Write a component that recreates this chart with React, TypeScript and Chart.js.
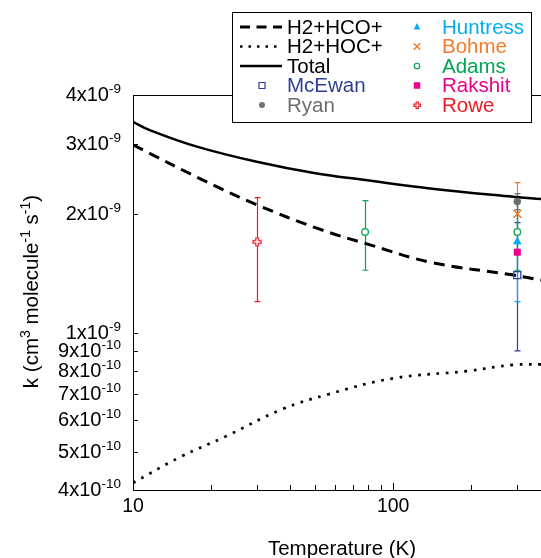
import React, { useEffect, useRef } from "react";
import { Chart, registerables } from "chart.js";
Chart.register(...registerables);

const FONT = '"Liberation Sans", Arial, Helvetica, sans-serif';

// Model curves: temperature (K) and rate coefficient (cm^3 molecule^-1 s^-1)
const hcoTemps = [10, 19.2, 29.9, 50.9, 81.5, 138.6, 290, 370];
const hcoRates = [2.99e-9, 2.41e-9, 2.11e-9, 1.84e-9, 1.67e-9, 1.51e-9, 1.40e-9, 1.36e-9];
const hocTemps = [10, 15.2, 22.9, 37.3, 56.4, 100, 192, 290, 370];
const hocRates = [4.17e-10, 4.85e-10, 5.48e-10, 6.4e-10, 6.99e-10, 7.67e-10, 8.0e-10, 8.3e-10, 8.32e-10];
const totalTemps = [10, 11.6, 17.6, 29.9, 50.9, 76.6, 138.6, 289, 370];
const totalRates = [3.42e-9, 3.26e-9, 2.96e-9, 2.71e-9, 2.53e-9, 2.44e-9, 2.32e-9, 2.21e-9, 2.18e-9];

// Measurements (temperature, value, symmetric error)
const mcewanT = [300]; const mcewanK = [1.4e-9]; const mcewanErr = [0.5e-9];
const ryanT = [300]; const ryanK = [2.15e-9]; const ryanErr = [0.1e-9];
const huntressT = [300]; const huntressK = [1.7e-9]; const huntressErr = [0.5e-9];
const bohmeT = [300]; const bohmeK = [2.0e-9]; const bohmeErr = [0.4e-9];
const adamsT = [78, 300]; const adamsK = [1.8e-9, 1.8e-9]; const adamsErr = [0.36e-9, 0.36e-9];
const rakshitT = [300]; const rakshitK = [1.6e-9]; const rakshitErr = [0];
const roweT = [30]; const roweK = [1.7e-9]; const roweErr = [0.5e-9];

// Axes
const xMin = 10; const xMax = 370;
const yMin = 4e-10; const yMax = 4e-9;
const xTickValues = [10, 20, 30, 40, 50, 60, 70, 80, 90, 100, 200, 300];
const xTickLabels = [10, 100];
const yTickValues = [4e-10, 5e-10, 6e-10, 7e-10, 8e-10, 9e-10, 1e-9, 2e-9, 3e-9, 4e-9];

const xTitle = "Temperature (K)";
const yTitleParts: [string, boolean][] = [["k (cm", false], ["3", true], [" molecule", false], ["-1", true], [" s", false], ["-1", true], [")", false]];

const COLORS = {
  mcewan: "#2f3f98",
  ryan: "#6d6e71",
  huntress: "#00aeef",
  bohme: "#f47b2a",
  adams: "#00a651",
  rakshit: "#ec008c",
  rowe: "#ed1c24",
};

function makePlus(size: number, color: string): HTMLCanvasElement {
  const c = document.createElement("canvas");
  c.width = size + 2; c.height = size + 2;
  const g = c.getContext("2d")!;
  const o = 1; const a = size / 3;
  g.strokeStyle = color; g.lineWidth = 1.2;
  g.beginPath();
  g.moveTo(o + a, o); g.lineTo(o + 2 * a, o); g.lineTo(o + 2 * a, o + a); g.lineTo(o + size, o + a);
  g.lineTo(o + size, o + 2 * a); g.lineTo(o + 2 * a, o + 2 * a); g.lineTo(o + 2 * a, o + size);
  g.lineTo(o + a, o + size); g.lineTo(o + a, o + 2 * a); g.lineTo(o, o + 2 * a); g.lineTo(o, o + a);
  g.lineTo(o + a, o + a); g.closePath();
  g.fillStyle = "#fff"; g.fill(); g.stroke();
  return c;
}

function drawMarker(ctx: CanvasRenderingContext2D, kind: string, x: number, y: number, s: number, color: string) {
  ctx.save();
  ctx.strokeStyle = color; ctx.fillStyle = color; ctx.lineWidth = 1.2;
  ctx.beginPath();
  if (kind === "triangle") {
    ctx.moveTo(x, y - s * 0.6); ctx.lineTo(x + s * 0.5, y + s * 0.4); ctx.lineTo(x - s * 0.5, y + s * 0.4); ctx.closePath(); ctx.fill();
  } else if (kind === "crossRot") {
    const h = s / 2; ctx.lineWidth = 1.5;
    ctx.moveTo(x - h, y - h); ctx.lineTo(x + h, y + h); ctx.moveTo(x + h, y - h); ctx.lineTo(x - h, y + h); ctx.stroke();
  } else if (kind === "circle") {
    ctx.arc(x, y, s / 2, 0, Math.PI * 2); ctx.stroke();
  } else if (kind === "circleFilled") {
    ctx.arc(x, y, s / 2, 0, Math.PI * 2); ctx.fill();
  } else if (kind === "rect") {
    ctx.rect(x - s / 2, y - s / 2, s, s); ctx.stroke();
  } else if (kind === "rectFilled") {
    ctx.rect(x - s / 2, y - s / 2, s, s); ctx.fill();
  } else if (kind === "plus") {
    const img = makePlus(s, color); ctx.drawImage(img, x - img.width / 2, y - img.height / 2);
  }
  ctx.restore();
}

function drawSupText(ctx: CanvasRenderingContext2D, parts: [string, boolean][], x: number, y: number, align: "left" | "right" | "center", mainPx: number, supPx: number, raise: number) {
  const mainFont = `${mainPx}px ${FONT}`; const supFont = `${supPx}px ${FONT}`;
  let total = 0;
  const widths = parts.map(([t, sup]) => { ctx.font = sup ? supFont : mainFont; const w = ctx.measureText(t).width; total += w; return w; });
  let cx = align === "left" ? x : align === "right" ? x - total : x - total / 2;
  ctx.textAlign = "left"; ctx.textBaseline = "alphabetic";
  parts.forEach(([t, sup], i) => {
    ctx.font = sup ? supFont : mainFont;
    ctx.fillText(t, cx, sup ? y - raise : y);
    cx += widths[i];
  });
}

const legendLeft = [
  { label: "H2+HCO+", kind: "dash", color: "#000" },
  { label: "H2+HOC+", kind: "dot", color: "#000" },
  { label: "Total", kind: "solid", color: "#000" },
  { label: "McEwan", kind: "rect", color: COLORS.mcewan },
  { label: "Ryan", kind: "circleFilled", color: COLORS.ryan },
];
const legendRight = [
  { label: "Huntress", kind: "triangle", color: COLORS.huntress },
  { label: "Bohme", kind: "crossRot", color: COLORS.bohme },
  { label: "Adams", kind: "circle", color: COLORS.adams },
  { label: "Rakshit", kind: "rectFilled", color: COLORS.rakshit },
  { label: "Rowe", kind: "plus", color: COLORS.rowe },
];

function pts(t: number[], k: number[]) { return t.map((x, i) => ({ x, y: k[i] })); }
function errPts(t: number[], k: number[], e: number[]) { return t.map((x, i) => ({ x, y: k[i], yMin: k[i] - e[i], yMax: k[i] + e[i] })); }

const framePlugin = {
  id: "frameAndLabels",
  beforeDatasetsDraw(chart: any) {
    const { ctx, chartArea: a, scales } = chart;
    const xs = scales.x, ys = scales.y;
    ctx.save();
    ctx.strokeStyle = "#000"; ctx.lineWidth = 1;
    ctx.beginPath();
    ctx.moveTo(a.left, a.top + 0.5); ctx.lineTo(a.right, a.top + 0.5);
    yTickValues.forEach((v) => { const p = Math.round(ys.getPixelForValue(v)) + 0.5; ctx.moveTo(a.left, p); ctx.lineTo(a.left + 5, p); });
    xTickValues.forEach((v) => { const p = Math.round(xs.getPixelForValue(v)) + 0.5; const l = xTickLabels.includes(v) ? 7 : 5; ctx.moveTo(p, a.bottom); ctx.lineTo(p, a.bottom - l); });
    ctx.stroke();
    // error bars
    chart.data.datasets.forEach((ds: any, di: number) => {
      if (!ds.errorBars) return;
      const meta = chart.getDatasetMeta(di);
      ctx.strokeStyle = ds.borderColor; ctx.lineWidth = 1.2;
      meta.data.forEach((el: any, i: number) => {
        const r = ds.data[i];
        if (r.yMax <= r.yMin) return;
        const x = Math.round(el.x) + 0.5;
        const t = ys.getPixelForValue(r.yMax), b = ys.getPixelForValue(r.yMin);
        ctx.beginPath();
        ctx.moveTo(x, t); ctx.lineTo(x, b);
        ctx.moveTo(x - 3, t); ctx.lineTo(x + 3, t);
        ctx.moveTo(x - 3, b); ctx.lineTo(x + 3, b);
        ctx.stroke();
      });
    });
    ctx.restore();
  },
  afterDraw(chart: any) {
    const { ctx, scales } = chart;
    const xs = scales.x, ys = scales.y;
    ctx.save();
    ctx.fillStyle = "#000";
    // y tick labels
    yTickValues.forEach((v) => {
      const e = Math.floor(Math.log10(v) + 1e-9);
      const m = Math.round(v / Math.pow(10, e));
      const p = ys.getPixelForValue(v);
      drawSupText(ctx, [[`${m}x10`, false], [`${e}`, true]], 121, p + 6, "right", 20, 13.5, 8);
    });
    // x tick labels
    ctx.font = `19.5px ${FONT}`; ctx.textAlign = "center"; ctx.textBaseline = "alphabetic";
    xTickLabels.forEach((v) => ctx.fillText(String(v), xs.getPixelForValue(v), 512));
    // x title
    ctx.font = `20.5px ${FONT}`;
    ctx.fillText(xTitle, 342, 555);
    // y title
    ctx.save();
    ctx.translate(38, 291.5); ctx.rotate(-Math.PI / 2);
    drawSupText(ctx, yTitleParts, 0, 0, "center", 20.5, 14, 8);
    ctx.restore();
    // legend
    const L = 232, T = 12, W = 299, H = 110;
    ctx.fillStyle = "#fff"; ctx.fillRect(L, T, W, H);
    ctx.strokeStyle = "#000"; ctx.lineWidth = 1; ctx.strokeRect(L + 0.5, T + 0.5, W, H);
    const rows = [27, 46.5, 66, 85.5, 105];
    ctx.font = `20.5px ${FONT}`; ctx.textAlign = "left"; ctx.textBaseline = "middle";
    legendLeft.forEach((it, i) => {
      const y = rows[i];
      if (it.kind === "dash" || it.kind === "dot" || it.kind === "solid") {
        ctx.save(); ctx.strokeStyle = "#000";
        ctx.lineWidth = it.kind === "solid" ? 2.5 : it.kind === "dash" ? 3 : 2.5;
        ctx.setLineDash(it.kind === "dash" ? [10, 6.5] : it.kind === "dot" ? [2.5, 6] : []);
        ctx.beginPath(); ctx.moveTo(240, y); ctx.lineTo(282, y); ctx.stroke(); ctx.restore();
      } else {
        drawMarker(ctx, it.kind, 262, y, 6, it.color);
      }
      ctx.fillStyle = it.color; ctx.fillText(it.label, 287, y + 1);
    });
    legendRight.forEach((it, i) => {
      const y = rows[i];
      drawMarker(ctx, it.kind, 417, y, it.kind === "circle" ? 5.5 : 6.5, it.color);
      ctx.fillStyle = it.color; ctx.fillText(it.label, 442, y + 1);
    });
    ctx.restore();
  },
};

export default function App() {
  const ref = useRef<HTMLCanvasElement | null>(null);
  useEffect(() => {
    if (!ref.current) return;
    const plusImg = makePlus(8, COLORS.rowe);
    const chart = new Chart(ref.current, {
      type: "scatter",
      data: {
        datasets: [
          { label: "McEwan", data: errPts(mcewanT, mcewanK, mcewanErr), errorBars: true, pointStyle: "rect", pointRadius: 5, borderColor: COLORS.mcewan, backgroundColor: "rgba(255,255,255,0)", borderWidth: 1.3, order: 7 } as any,
          { label: "Bohme", data: errPts(bohmeT, bohmeK, bohmeErr), errorBars: true, pointStyle: "crossRot", pointRadius: 5.5, borderColor: COLORS.bohme, backgroundColor: COLORS.bohme, borderWidth: 1.5, order: 6 } as any,
          { label: "Huntress", data: errPts(huntressT, huntressK, huntressErr), errorBars: true, pointStyle: "triangle", pointRadius: 4.2, borderColor: COLORS.huntress, backgroundColor: COLORS.huntress, borderWidth: 1, order: 5 } as any,
          { label: "Adams", data: errPts(adamsT, adamsK, adamsErr), errorBars: true, pointStyle: "circle", pointRadius: 3.3, borderColor: COLORS.adams, backgroundColor: "#fff", borderWidth: 1.3, order: 4 } as any,
          { label: "Ryan", data: errPts(ryanT, ryanK, ryanErr), errorBars: true, pointStyle: "circle", pointRadius: 3.7, borderColor: COLORS.ryan, backgroundColor: COLORS.ryan, borderWidth: 0, order: 3 } as any,
          { label: "Rakshit", data: errPts(rakshitT, rakshitK, rakshitErr), errorBars: true, pointStyle: "rect", pointRadius: 5, borderColor: COLORS.rakshit, backgroundColor: COLORS.rakshit, borderWidth: 0, order: 2 } as any,
          { label: "Rowe", data: errPts(roweT, roweK, roweErr), errorBars: true, pointStyle: plusImg, pointRadius: 4, borderColor: COLORS.rowe, backgroundColor: COLORS.rowe, borderWidth: 1, order: 1 } as any,
          { label: "H2+HCO+", data: pts(hcoTemps, hcoRates), showLine: true, pointRadius: 0, borderColor: "#000", borderWidth: 3, borderDash: [11, 7], tension: 0.4, order: 10 } as any,
          { label: "H2+HOC+", data: pts(hocTemps, hocRates), showLine: true, pointRadius: 0, borderColor: "#000", borderWidth: 2.7, borderDash: [2.7, 6.6], tension: 0.4, order: 11 } as any,
          { label: "Total", data: pts(totalTemps, totalRates), showLine: true, pointRadius: 0, borderColor: "#000", borderWidth: 2.5, tension: 0.4, order: 9 } as any,
        ],
      },
      options: {
        animation: false,
        responsive: false,
        devicePixelRatio: 1,
        events: [],
        layout: { autoPadding: false, padding: { left: 0, top: 95, right: 0, bottom: 0 } },
        plugins: { legend: { display: false }, tooltip: { enabled: false } },
        scales: {
          x: {
            type: "logarithmic", min: xMin, max: xMax,
            grid: { display: false },
            ticks: { display: false },
            border: { display: true, color: "#000", width: 1 },
            afterBuildTicks: (s: any) => { s.ticks = xTickValues.map((v) => ({ value: v })); },
            afterFit: (s: any) => { s.height = 68; },
          },
          y: {
            type: "logarithmic", min: yMin, max: yMax,
            grid: { display: false },
            ticks: { display: false },
            border: { display: true, color: "#000", width: 1 },
            afterBuildTicks: (s: any) => { s.ticks = yTickValues.map((v) => ({ value: v })); },
            afterFit: (s: any) => { s.width = 133; },
          },
        },
      } as any,
      plugins: [framePlugin],
    });
    return () => chart.destroy();
  }, []);
  return (
    <div style={{ position: "fixed", left: 0, top: 0, width: 541, height: 558, background: "#fff" }}>
      <canvas ref={ref} width={541} height={558} style={{ display: "block", width: 541, height: 558 }} />
    </div>
  );
}
